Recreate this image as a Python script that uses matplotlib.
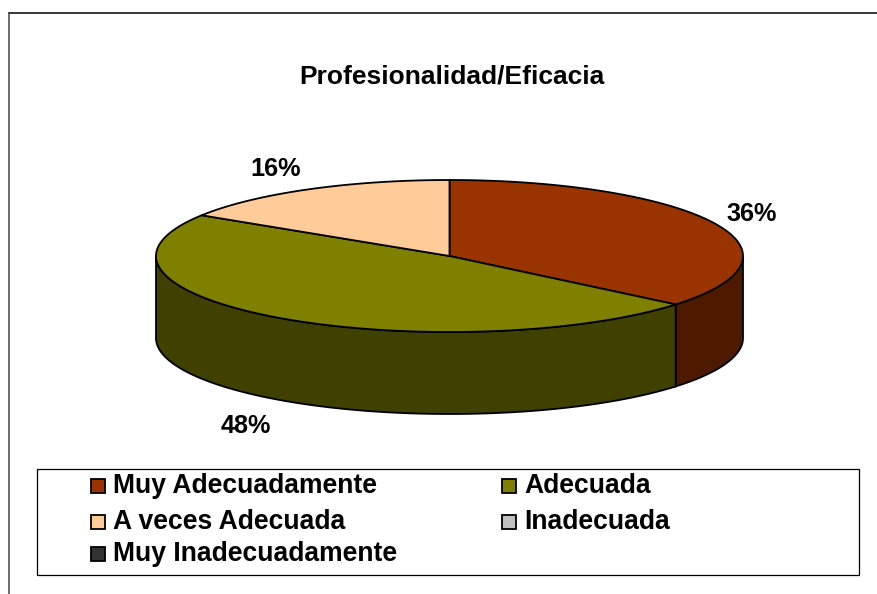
import numpy as np
import matplotlib
matplotlib.use('Agg')
import matplotlib.pyplot as plt
from matplotlib.patches import Polygon, Rectangle

title = 'Profesionalidad/Eficacia'
categories = ['Muy Adecuadamente', 'Adecuada', 'A veces Adecuada', 'Inadecuada', 'Muy Inadecuadamente']
values = [36, 48, 16, 0, 0]
colors = ['#993300', '#808000', '#FFCC99', '#C0C0C0', '#333333']
side_colors = ['#4D1A00', '#404000', '#806650', '#606060', '#1A1A1A']

# pie geometry in image pixels
cx, cy = 449.5, 256
rx, ry = 293.5, 76
depth = 82
lw = 1.3

def arc(a0, a1, dy=0):
    t = np.radians(np.linspace(a0, a1, 200))
    return np.column_stack([cx + rx * np.cos(t), cy - ry * np.sin(t) + dy])

fig = plt.figure(figsize=(8.77, 5.94), dpi=100)
ax = fig.add_axes([0, 0, 1, 1])
ax.set_xlim(0, 877)
ax.set_ylim(594, 0)
ax.axis('off')
plt.rcParams['font.family'] = ['Liberation Sans', 'DejaVu Sans']

# chart frame, only top and left are inside the picture
ax.plot([8.5, 877], [12.5, 12.5], color='black', lw=1.1, zorder=1)
ax.plot([8.5, 8.5], [594, 12.5], color='#444444', lw=1.1, zorder=1)

# slices run clockwise from the top
angles = 90 - np.cumsum([0] + values) * 3.6

# side walls of the front half
for i in range(len(values)):
    a0, a1 = angles[i], angles[i + 1]
    lo, hi = max(a1, -180), min(a0, 0)
    if values[i] > 0 and lo < hi:
        top = arc(hi, lo)
        bottom = arc(lo, hi, depth)
        ax.add_patch(Polygon(np.vstack([top, bottom]), closed=True, facecolor=side_colors[i],
                             edgecolor='black', lw=lw, zorder=2))

# top faces
for i in range(len(values)):
    if values[i] > 0:
        pts = np.vstack([[[cx, cy]], arc(angles[i], angles[i + 1])])
        ax.add_patch(Polygon(pts, closed=True, facecolor=colors[i], edgecolor='black',
                             lw=lw, zorder=3, joinstyle='round'))

ax.text(452, 84, title, fontsize=19, fontweight='bold', ha='center', va='baseline')

# value labels
label_pos = [(752, 221), (246, 433), (276, 176)]
for v, (x, y) in zip(values[:3], label_pos):
    ax.text(x, y, '%d%%' % v, fontsize=18.2, fontweight='bold', ha='center', va='baseline')

# legend
ax.add_patch(Rectangle((36.5, 468.5), 822, 106, facecolor='white', edgecolor='black', lw=0.9, zorder=4))
legend_pos = [(90, 493), (501, 493), (90, 529), (501, 529), (90, 561)]
for name, col, (x, y) in zip(categories, colors, legend_pos):
    ax.add_patch(Rectangle((x + 0.5, y - 14.5), 14.5, 14.5, facecolor=col, edgecolor='black', lw=1.3, zorder=5))
    ax.text(x + 23, y, name, fontsize=19.1, fontweight='bold', ha='left', va='baseline', zorder=5)

fig.savefig('out.png', dpi=100)
